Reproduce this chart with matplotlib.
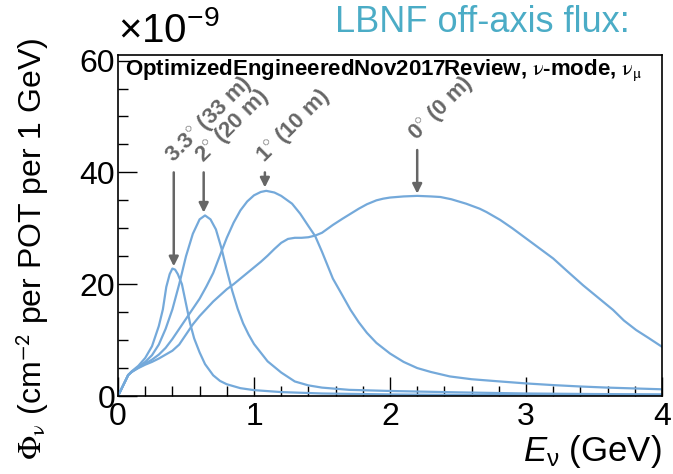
import matplotlib
matplotlib.use("Agg")
import matplotlib.pyplot as plt
import numpy as np

plt.rcParams['font.family'] = ['Liberation Sans', 'DejaVu Sans']
plt.rcParams['mathtext.fontset'] = 'custom'
plt.rcParams['mathtext.rm'] = 'Liberation Sans'
plt.rcParams['mathtext.it'] = 'Liberation Sans:italic'
plt.rcParams['mathtext.bf'] = 'Liberation Sans:bold'

# Flux spectra (units of 1e-9 cm^-2 per POT per 1 GeV) vs neutrino energy (GeV)
e_0deg = [0.0, 0.025, 0.05, 0.075, 0.1, 0.15, 0.2, 0.25, 0.3, 0.35, 0.4, 0.45, 0.5, 0.55,
          0.6, 0.65, 0.7, 0.75, 0.8, 0.85, 0.9, 0.95, 1.0, 1.05, 1.1, 1.15, 1.2, 1.25, 1.3,
          1.35, 1.4, 1.45, 1.5, 1.58, 1.65, 1.71, 1.77, 1.83, 1.9, 1.95, 2.0, 2.1, 2.2, 2.3,
          2.37, 2.45, 2.56, 2.66, 2.71, 2.81, 2.9, 3.0, 3.1, 3.2, 3.3, 3.42, 3.53, 3.64, 3.72,
          3.81, 3.9, 4.0]
flux_0deg = [0.0, 1.25, 2.5, 3.75, 4.3, 5.0, 5.6, 6.1, 6.7, 7.4, 8.1, 9.2, 11.0, 12.8,
             14.3, 15.6, 16.9, 18.0, 19.1, 20.0, 21.0, 22.0, 23.0, 24.0, 25.1, 26.3, 27.4, 28.1, 28.3,
             28.3, 28.4, 28.7, 29.2, 30.6, 31.7, 32.6, 33.5, 34.3, 35.0, 35.3, 35.5, 35.7, 35.8, 35.7,
             35.6, 35.2, 34.4, 33.5, 32.9, 31.5, 30.0, 28.2, 26.4, 24.6, 22.4, 19.8, 17.6, 15.4, 13.5,
             11.8, 10.4, 8.8]

e_1deg = [0.0, 0.025, 0.05, 0.075, 0.1, 0.15, 0.2, 0.25, 0.3, 0.35, 0.4, 0.45, 0.5, 0.55,
          0.6, 0.65, 0.7, 0.76, 0.8, 0.85, 0.9, 0.95, 1.0, 1.05, 1.09, 1.15, 1.2, 1.28, 1.34,
          1.4, 1.45, 1.5, 1.58, 1.65, 1.71, 1.77, 1.83, 1.9, 2.0, 2.1, 2.2, 2.3, 2.44, 2.6,
          2.81, 3.0, 3.2, 3.4, 3.6, 3.8, 4.0]
flux_1deg = [0.0, 1.25, 2.5, 3.75, 4.3, 5.1, 5.8, 6.5, 7.4, 8.6, 10.2, 12.0, 13.8, 15.6,
             17.4, 19.6, 22.0, 25.8, 28.3, 31.0, 33.2, 34.8, 35.9, 36.5, 36.7, 36.4, 35.8, 34.4, 32.6,
             30.4, 28.6, 25.8, 21.0, 18.0, 15.4, 13.2, 11.3, 9.5, 7.6, 6.1, 5.0, 4.3, 3.5, 3.0,
             2.6, 2.25, 1.95, 1.7, 1.5, 1.35, 1.2]

e_2deg = [0.0, 0.025, 0.05, 0.075, 0.1, 0.15, 0.2, 0.25, 0.3, 0.35, 0.4, 0.45, 0.5, 0.55,
          0.6, 0.64, 0.68, 0.72, 0.76, 0.8, 0.84, 0.88, 0.92, 0.96, 1.0, 1.1, 1.2, 1.3, 1.4,
          1.5, 1.7, 2.0, 2.5, 3.0, 3.5, 4.0]
flux_2deg = [0.0, 1.25, 2.5, 3.75, 4.3, 5.2, 6.1, 7.3, 9.2, 12.0, 15.5, 20.0, 25.0, 29.0,
             31.6, 32.3, 31.6, 29.8, 26.5, 22.5, 18.8, 15.6, 13.0, 11.0, 9.3, 6.2, 4.2, 2.6, 1.9,
             1.5, 1.1, 0.9, 0.65, 0.45, 0.35, 0.3]

e_33deg = [0.0, 0.025, 0.05, 0.075, 0.1, 0.15, 0.2, 0.25, 0.3, 0.33, 0.355, 0.38, 0.4, 0.42,
           0.44, 0.47, 0.5, 0.53, 0.56, 0.6, 0.64, 0.7, 0.75, 0.8, 0.9, 1.0, 1.2, 1.5, 2.0,
           2.5, 3.0, 3.5, 4.0]
flux_33deg = [0.0, 1.25, 2.5, 3.75, 4.4, 5.4, 6.8, 8.9, 12.5, 15.5, 19.5, 21.8, 22.8, 22.6,
              21.8, 20.0, 16.5, 13.0, 10.3, 7.8, 5.7, 3.7, 2.7, 2.1, 1.4, 1.05, 0.7, 0.45, 0.28,
              0.2, 0.15, 0.12, 0.1]

# Annotation arrows: x position, arrow start (top) and tip values, label
arrow_x = [0.41, 0.63, 1.08, 2.2]
arrow_top = [40.0, 40.0, 40.0, 44.0]
arrow_tip = [23.2, 32.8, 37.3, 36.2]
arrow_labels = [r"3.3$^{\circ}$ (33 m)", r"2$^{\circ}$ (20 m)",
                r"1$^{\circ}$ (10 m)", r"0$^{\circ}$ (0 m)"]

line_color = '#74a9da'
gray = '#666666'

fig = plt.figure(figsize=(6.73, 4.74), dpi=100)
ax = fig.add_axes([118 / 673, 78 / 474, 544 / 673, 341 / 474])

for e, f in [(e_0deg, flux_0deg), (e_1deg, flux_1deg), (e_2deg, flux_2deg), (e_33deg, flux_33deg)]:
    ax.plot(e, f, color=line_color, lw=1.6, solid_joinstyle='round')

ax.set_xlim(0, 4)
ax.set_ylim(0, 61)

ax.set_xticks([0, 1, 2, 3, 4])
ax.set_xticks(np.arange(0, 4.01, 0.2), minor=True)
ax.set_yticks([0, 20, 40, 60])
ax.set_yticks(np.arange(0, 61, 5), minor=True)
ax.tick_params(which='major', direction='in', length=14, width=1.0, labelsize=23, pad=2,
               top=False, right=False)
ax.tick_params(which='minor', direction='in', length=7, width=1.0, top=False, right=False)
ax.tick_params(axis='x', which='major', pad=4)
for sp in ax.spines.values():
    sp.set_linewidth(1.2)

for x, y0, y1, lab in zip(arrow_x, arrow_top, arrow_tip, arrow_labels):
    ax.annotate('', xy=(x, y1), xytext=(x, y0),
                arrowprops=dict(arrowstyle='-|>', color=gray, lw=1.8,
                                mutation_scale=14, shrinkA=0, shrinkB=0))
    ax.text(x + 0.03, y0 + 0.8, lab, rotation=45, rotation_mode='anchor',
            ha='left', va='bottom', fontsize=16, fontweight='bold', color=gray)

ax.text(0.012, 0.955, r"OptimizedEngineeredNov2017Review, $\mathrm{ν}$-mode, $\mathrm{ν}_{\mathrm{μ}}$",
        transform=ax.transAxes, ha='left', va='center', fontsize=16,
        fontweight='bold', color='black', math_fontfamily='stix')

fig.text(482 / 673, 1 - 22 / 474, "LBNF off-axis flux:", ha='center', va='center',
         fontsize=26, color='#4bacc6')
fig.text(118 / 673, 1 - 30 / 474, r"$\times$10$^{-9}$", ha='left', va='center',
         fontsize=29, color='black')

fig.text(32 / 673, 1 - 38 / 474, r"$\mathrm{Φ}_{\mathrm{ν}}$ (cm$^{\mathsf{-2}}$ per POT per 1 GeV)",
         rotation=90, ha='center', va='top', fontsize=23, math_fontfamily='stix')
fig.text(662 / 673, 1 - 452 / 474, r"$E_{\mathrm{ν}}$ (GeV)", ha='right', va='center', fontsize=25)

fig.savefig("out.png", dpi=100)
